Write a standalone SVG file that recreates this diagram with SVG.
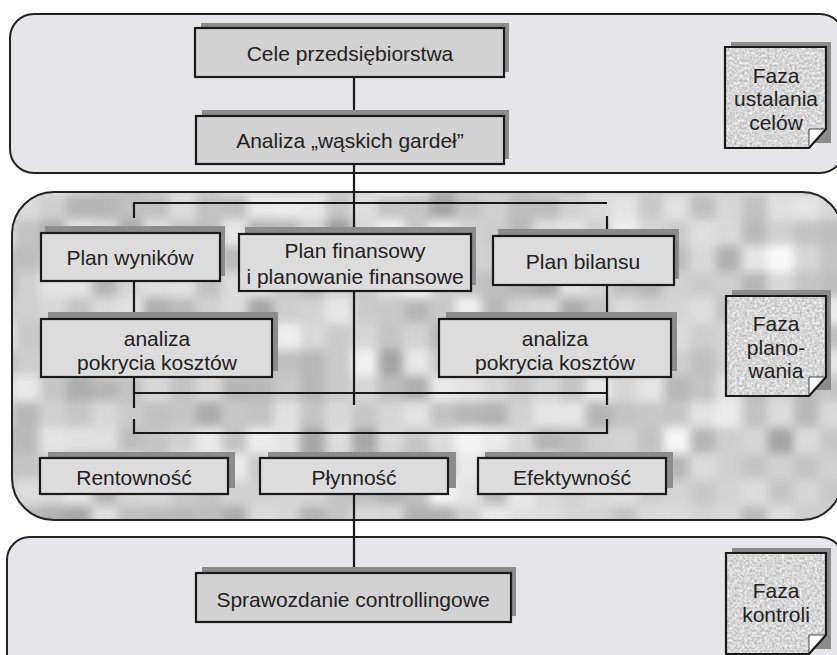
<svg xmlns="http://www.w3.org/2000/svg" width="837" height="655" viewBox="0 0 837 655">
  <style>
    .panel { fill: #e6e6e8; stroke: #222; stroke-width: 2; }
    .panel-outline { fill: none; stroke: #222; stroke-width: 2; }
    .shadow { fill: #8c8c8c; }
    .box { fill: #d2d2d2; stroke: #1a1a1a; stroke-width: 2.2; }
    .box-light { fill: #dcdcdc; stroke: #1a1a1a; stroke-width: 2.2; }
    .note { stroke: none; }
    .note-edge { fill: none; stroke: #1a1a1a; stroke-width: 2.2; stroke-linejoin: miter; }
    .curl { fill: #ffffff; stroke: #1a1a1a; stroke-width: 0.8; }
    .label { font-family: "Liberation Sans", Arial, sans-serif; font-size: 21px; fill: #222; text-anchor: middle; dominant-baseline: central; }
    .conn { fill: none; stroke: #1a1a1a; stroke-width: 2.2; }
  </style>
  <defs>
    <!-- blurred block mosaic used as the planning-phase background -->
    <filter id="mosaic" filterUnits="userSpaceOnUse" x="0" y="180" width="850" height="350" color-interpolation-filters="sRGB">
      <feTurbulence type="fractalNoise" baseFrequency="0.04" numOctaves="2" seed="11" result="noise"/>
      <feColorMatrix in="noise" type="matrix" values="0.55 0 0 0 0.53  0.55 0 0 0 0.53  0.55 0 0 0 0.53  0 0 0 0 1" result="grey"/>
      <feFlood x="0" y="180" width="1" height="1" flood-color="#fff" result="dot"/>
      <feOffset in="dot" dx="0" dy="0" x="0" y="180" width="26" height="26" result="cell"/>
      <feTile in="cell" result="grid"/>
      <feComposite in="grey" in2="grid" operator="in" result="dots"/>
      <feMorphology in="dots" operator="dilate" radius="13" result="blocks"/>
      <feGaussianBlur in="blocks" stdDeviation="5"/>
    </filter>
    <!-- granite-like speckle for the phase notes -->
    <filter id="speckle" x="0" y="0" width="100%" height="100%" color-interpolation-filters="sRGB">
      <feTurbulence type="fractalNoise" baseFrequency="0.4" numOctaves="3" seed="5" result="n"/>
      <feColorMatrix in="n" type="matrix" values="0.4 0 0 0 0.64  0.4 0 0 0 0.64  0.4 0 0 0 0.64  0 0 0 0 1" result="g"/>
      <feComposite in="g" in2="SourceGraphic" operator="in"/>
    </filter>
    <clipPath id="planClip">
      <path d="M54,192 H802 A40,40 0 0 1 842,232 V480 A40,40 0 0 1 802,520 H54 A42,42 0 0 1 12,478 V234 A42,42 0 0 1 54,192 Z"/>
    </clipPath>
  </defs>

  <!-- phase panels -->
  <g id="panel-goals">
    <path class="panel" d="M34,14 H820 A24,24 0 0 1 844,38 V149 A24,24 0 0 1 820,173 H34 A24,24 0 0 1 10,149 V38 A24,24 0 0 1 34,14 Z"/>
  </g>
  <g id="panel-planning">
    <rect x="0" y="180" width="850" height="350" fill="#d4d4d4" filter="url(#mosaic)" clip-path="url(#planClip)"/>
    <path class="panel-outline" d="M54,192 H802 A40,40 0 0 1 842,232 V480 A40,40 0 0 1 802,520 H54 A42,42 0 0 1 12,478 V234 A42,42 0 0 1 54,192 Z"/>
  </g>
  <g id="panel-control">
    <path class="panel" d="M30,537 H820 A24,24 0 0 1 844,561 V680 H7 V560 A23,23 0 0 1 30,537 Z"/>
  </g>

  <!-- connectors -->
  <g id="connectors">
    <line class="conn" x1="354" y1="77" x2="354" y2="116"/>
    <line class="conn" x1="354" y1="164" x2="354" y2="234"/>
    <polyline class="conn" points="134,218 134,203 607,203"/>
    <line class="conn" x1="607" y1="216" x2="607" y2="236"/>
    <line class="conn" x1="134" y1="281" x2="134" y2="319"/>
    <line class="conn" x1="607" y1="285" x2="607" y2="319"/>
    <line class="conn" x1="354" y1="291" x2="354" y2="405"/>
    <line class="conn" x1="134" y1="377" x2="134" y2="408"/>
    <line class="conn" x1="607" y1="377" x2="607" y2="405"/>
    <line class="conn" x1="134" y1="393" x2="607" y2="393"/>
    <polyline class="conn" points="134,419 134,433 607,433 607,419"/>
    <line class="conn" x1="354" y1="494" x2="354" y2="573"/>
  </g>

  <!-- goal-setting phase -->
  <g id="node-cele">
    <rect class="shadow" x="201" y="23" width="308" height="49"/>
    <rect class="box" x="195" y="28" width="309" height="49"/>
    <text class="label" x="350" y="53">Cele przedsiębiorstwa</text>
  </g>
  <g id="node-analiza-gardel">
    <rect class="shadow" x="202" y="110" width="307" height="49"/>
    <rect class="box" x="196" y="116" width="308" height="48"/>
    <text class="label" x="350" y="140">Analiza „wąskich gardeł”</text>
  </g>
  <g id="note-ustalania">
    <rect class="shadow" x="731" y="42" width="100" height="101"/>
    <path class="note" fill="#d6d6d6" filter="url(#speckle)" d="M725,47 H826 V129 L809,148 H725 Z"/>
    <path class="curl" d="M809,129 H826 L809,148 Z"/>
    <path class="note-edge" d="M725,47 H826 V129 L809,148 H725 Z"/>
    <text class="label" x="776" y="75">Faza</text>
    <text class="label" x="776" y="98">ustalania</text>
    <text class="label" x="776" y="122">celów</text>
  </g>

  <!-- planning phase -->
  <g id="node-plan-wynikow">
    <rect class="shadow" x="45" y="226" width="180" height="50"/>
    <rect class="box-light" x="41" y="233" width="179" height="48"/>
    <text class="label" x="130" y="257">Plan wyników</text>
  </g>
  <g id="node-plan-finansowy">
    <rect class="shadow" x="245" y="227" width="231" height="58"/>
    <rect class="box-light" x="239" y="234" width="232" height="57"/>
    <text class="label" x="355" y="250">Plan finansowy</text>
    <text class="label" x="355" y="276">i planowanie finansowe</text>
  </g>
  <g id="node-plan-bilansu">
    <rect class="shadow" x="498" y="229" width="181" height="50"/>
    <rect class="box-light" x="493" y="236" width="181" height="49"/>
    <text class="label" x="583" y="261">Plan bilansu</text>
  </g>
  <g id="node-analiza-lewa">
    <rect class="shadow" x="48" y="312" width="230" height="59"/>
    <rect class="box-light" x="41" y="319" width="231" height="58"/>
    <text class="label" x="157" y="338">analiza</text>
    <text class="label" x="157" y="362">pokrycia kosztów</text>
  </g>
  <g id="node-analiza-prawa">
    <rect class="shadow" x="446" y="312" width="231" height="59"/>
    <rect class="box-light" x="439" y="319" width="232" height="58"/>
    <text class="label" x="555" y="338">analiza</text>
    <text class="label" x="555" y="362">pokrycia kosztów</text>
  </g>
  <g id="note-planowania">
    <rect class="shadow" x="732" y="290" width="99" height="100"/>
    <path class="note" fill="#d6d6d6" filter="url(#speckle)" d="M726,296 H826 V377 L809,396 H726 Z"/>
    <path class="curl" d="M809,377 H826 L809,396 Z"/>
    <path class="note-edge" d="M726,296 H826 V377 L809,396 H726 Z"/>
    <text class="label" x="776" y="323">Faza</text>
    <text class="label" x="776" y="347">plano-</text>
    <text class="label" x="776" y="370">wania</text>
  </g>
  <g id="node-rentownosc">
    <rect class="shadow" x="48" y="452" width="187" height="36"/>
    <rect class="box-light" x="40" y="458" width="188" height="36"/>
    <text class="label" x="134" y="477">Rentowność</text>
  </g>
  <g id="node-plynnosc">
    <rect class="shadow" x="268" y="452" width="188" height="36"/>
    <rect class="box-light" x="260" y="458" width="188" height="36"/>
    <text class="label" x="354" y="477">Płynność</text>
  </g>
  <g id="node-efektywnosc">
    <rect class="shadow" x="485" y="452" width="188" height="36"/>
    <rect class="box-light" x="478" y="458" width="188" height="36"/>
    <text class="label" x="572" y="477">Efektywność</text>
  </g>

  <!-- control phase -->
  <g id="node-sprawozdanie">
    <rect class="shadow" x="202" y="567" width="314" height="49"/>
    <rect class="box" x="196" y="573" width="315" height="49"/>
    <text class="label" x="353" y="599">Sprawozdanie controllingowe</text>
  </g>
  <g id="note-kontroli">
    <rect class="shadow" x="732" y="548" width="99" height="101"/>
    <path class="note" fill="#d6d6d6" filter="url(#speckle)" d="M726,553 H826 V635 L809,654 H726 Z"/>
    <path class="curl" d="M809,635 H826 L809,654 Z"/>
    <path class="note-edge" d="M726,553 H826 V635 L809,654 H726 Z"/>
    <text class="label" x="776" y="590">Faza</text>
    <text class="label" x="776" y="614">kontroli</text>
  </g>
</svg>
